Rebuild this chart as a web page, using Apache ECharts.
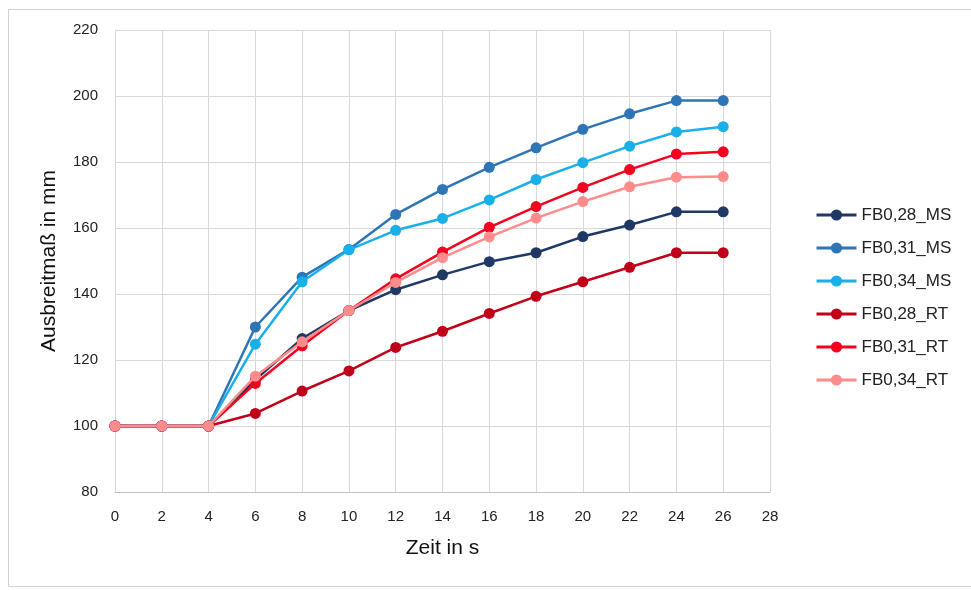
<!DOCTYPE html>
<html>
<head>
<meta charset="utf-8">
<script src="https://cdn.jsdelivr.net/npm/echarts@6/dist/echarts.min.js"></script>
<style>
html,body{margin:0;padding:0;background:#fff;}
#c{width:971px;height:590px;}
</style>
</head>
<body>
<div id="c"></div>
<script>
const times = [0, 2, 4, 6, 8, 10, 12, 14, 16, 18, 20, 22, 24, 26];
const seriesNames = ['FB0,28_MS', 'FB0,31_MS', 'FB0,34_MS', 'FB0,28_RT', 'FB0,31_RT', 'FB0,34_RT'];
const fb028MS = [100, 100, 100, 114, 126.5, 135, 141.3, 145.8, 149.8, 152.5, 157.4, 160.9, 164.9, 164.9];
const fb031MS = [100, 100, 100, 130, 145.1, 153.5, 164.1, 171.7, 178.4, 184.3, 189.9, 194.6, 198.6, 198.6];
const fb034MS = [100, 100, 100, 124.8, 143.7, 153.4, 159.3, 162.9, 168.5, 174.7, 179.8, 184.8, 189.1, 190.7];
const fb028RT = [100, 100, 100, 103.8, 110.6, 116.7, 123.8, 128.7, 134.1, 139.3, 143.7, 148.1, 152.5, 152.5];
const fb031RT = [100, 100, 100, 112.9, 124.3, 135, 144.6, 152.7, 160.2, 166.5, 172.3, 177.7, 182.4, 183.1];
const fb034RT = [100, 100, 100, 115.1, 125.5, 135, 143.5, 151, 157.3, 163, 168, 172.5, 175.4, 175.6];
const xTicks = {min: 0, max: 28, interval: 2};
const yTicks = {min: 80, max: 220, interval: 20};

const allData = [fb028MS, fb031MS, fb034MS, fb028RT, fb031RT, fb034RT];
const colors = ['#1F3864', '#2E75B6', '#19AFE8', '#C00018', '#F5001E', '#FF8C8C'];
const font = '"Liberation Sans", Arial, sans-serif';

const chart = echarts.init(document.getElementById('c'), null, {renderer: 'canvas'});
chart.setOption({
  animation: false,
  backgroundColor: '#fff',
  graphic: [{
    type: 'rect', shape: {x: 8.5, y: 9.5, width: 980, height: 577},
    style: {fill: 'none', stroke: '#d0d0d0', lineWidth: 1}, silent: true, z: -10
  }],
  grid: {left: 115, right: 201, top: 30, bottom: 98, containLabel: false},
  legend: {
    orient: 'vertical', left: 810, top: 201,
    itemWidth: 40, itemHeight: 14, itemGap: 15,
    lineStyle: {width: 3},
    textStyle: {fontFamily: font, fontSize: 17, color: '#222', lineHeight: 18},
    data: seriesNames
  },
  xAxis: {
    type: 'value', min: xTicks.min, max: xTicks.max, interval: xTicks.interval,
    name: 'Zeit in s', nameLocation: 'middle', nameGap: 46,
    nameTextStyle: {fontFamily: font, fontSize: 21, color: '#111'},
    axisLine: {show: true, lineStyle: {color: '#bfbfbf', width: 1}},
    axisTick: {show: false},
    axisLabel: {fontFamily: font, fontSize: 15, color: '#222', margin: 17},
    splitLine: {show: true, lineStyle: {color: '#d9d9d9', width: 1}}
  },
  yAxis: {
    type: 'value', min: yTicks.min, max: yTicks.max, interval: yTicks.interval,
    name: 'Ausbreitmaß in mm', nameLocation: 'middle', nameGap: 55,
    nameTextStyle: {fontFamily: font, fontSize: 21, color: '#111'},
    axisLine: {show: true, lineStyle: {color: '#d9d9d9', width: 1}},
    axisTick: {show: false},
    axisLabel: {fontFamily: font, fontSize: 15, color: '#222', margin: 17},
    splitLine: {show: true, lineStyle: {color: '#d9d9d9', width: 1}}
  },
  series: seriesNames.map((name, i) => ({
    name: name,
    type: 'line',
    data: times.map((t, j) => [t, allData[i][j]]),
    symbol: 'circle',
    symbolSize: 11,
    color: colors[i],
    lineStyle: {width: 2.5, color: colors[i]},
    itemStyle: {color: colors[i]},
    z: 2 + i
  }))
});
</script>
</body>
</html>
